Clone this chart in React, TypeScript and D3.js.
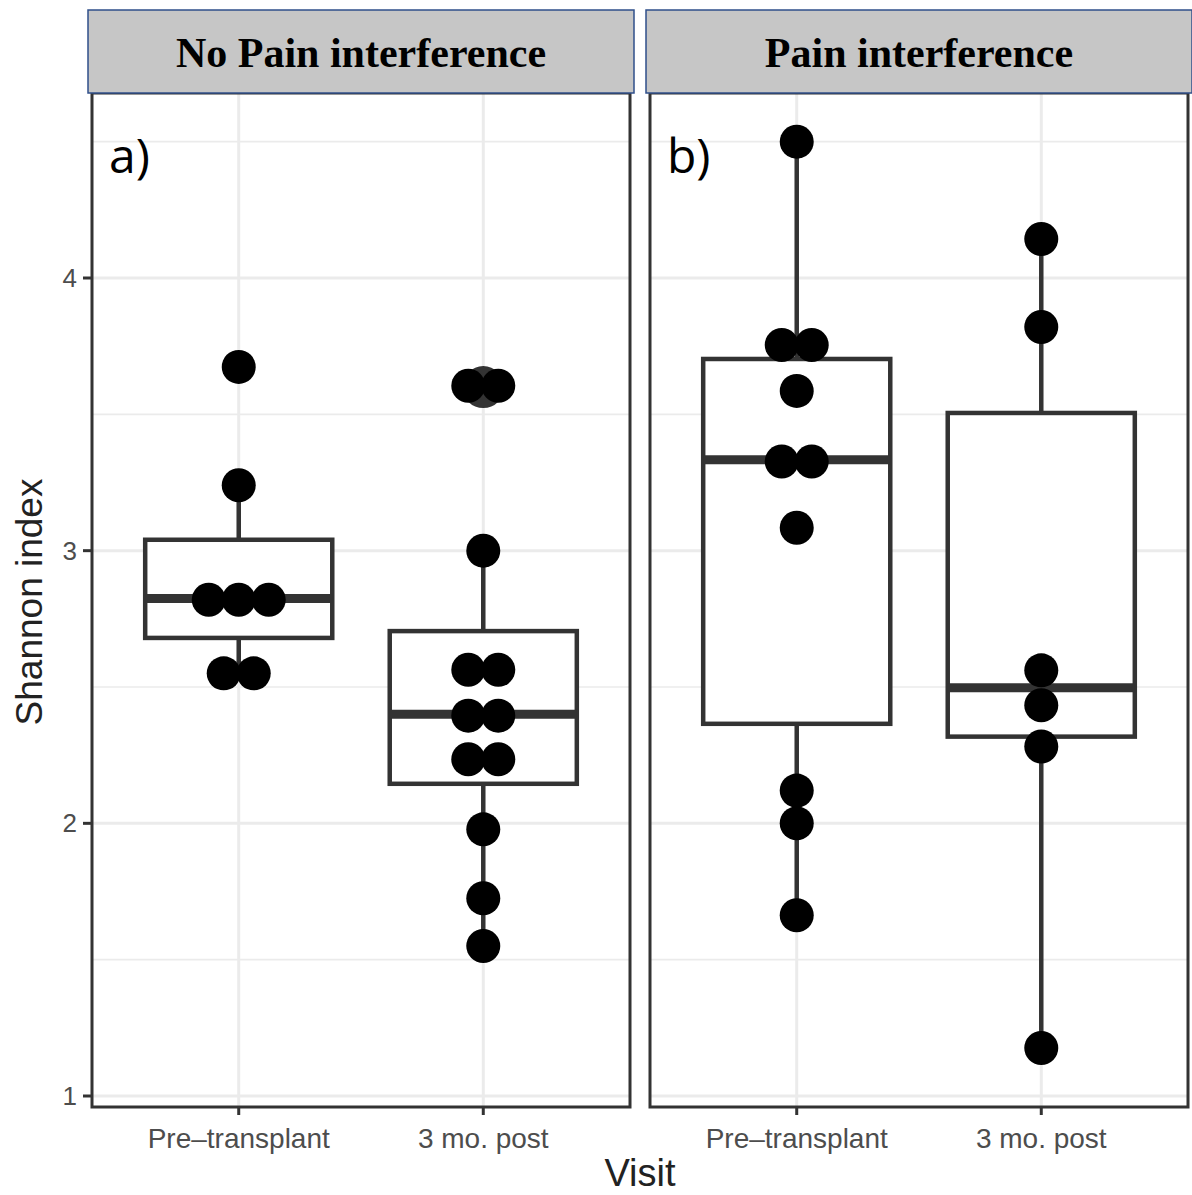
import React from "react";
import * as d3 from "d3";

const panels = ["No Pain interference", "Pain interference"];
const panelTags = ["a)", "b)"];
const visits = ["Pre\u2013transplant", "3 mo. post"];
const yTicks = [1, 2, 3, 4];
const yMinor = [1.5, 2.5, 3.5, 4.5];

// box stats per panel / visit: [lowerWhisker, q1, median, q3, upperWhisker]
const boxNoPain = [
  [2.55, 2.68, 2.825, 3.04, 3.24],
  [1.55, 2.145, 2.4, 2.705, 3.0],
];
const boxPain = [
  [1.665, 2.365, 3.333, 3.703, 4.5],
  [1.175, 2.318, 2.497, 3.505, 4.143],
];
// outliers drawn by the boxplot layer
const outNoPain = [[], [3.6]];
const outPain = [[], []];
// dotplot stacks: [value, count]
const dotsNoPain = [
  [[3.674, 1], [3.24, 1], [2.82, 3], [2.55, 2]],
  [[3.605, 2], [3.0, 1], [2.563, 2], [2.395, 2], [2.235, 2], [1.978, 1], [1.725, 1], [1.55, 1]],
];
const dotsPain = [
  [[4.5, 1], [3.754, 2], [3.586, 1], [3.327, 2], [3.084, 1], [2.12, 1], [2.0, 1], [1.663, 1]],
  [[4.143, 1], [3.82, 1], [2.561, 1], [2.433, 1], [2.282, 1], [1.176, 1]],
];

const boxes = [boxNoPain, boxPain];
const outs = [outNoPain, outPain];
const dots = [dotsNoPain, dotsPain];

export default function App() {
  const W = 1192, H = 1195;
  const top = 93, bottom = 1107;
  const panelX = [[92, 630], [650, 1188]];
  const y = d3.scaleLinear().domain([1, 4]).range([1096, 278]);
  const dotR = 17, dotStep = 30;
  const sans = "'Liberation Sans', Arial, Helvetica, sans-serif";

  return (
    <svg width={W} height={H} style={{ position: "absolute", left: 0, top: 0, background: "#fff" }}>
      <rect x={0} y={0} width={W} height={H} fill="#fff" />
      {panels.map((p, pi) => {
        const [x0, x1] = panelX[pi];
        const x = d3.scalePoint().domain(visits).range([x0, x1]).padding(0.6);
        const step = x.step();
        const bw = step * 0.765;
        return (
          <g key={p}>
            {/* grid */}
            {yMinor.map((v) => (
              <line key={"mn" + v} x1={x0} x2={x1} y1={y(v)} y2={y(v)} stroke="#ebebeb" strokeWidth={1.6} />
            ))}
            {yTicks.map((v) => (
              <line key={"mj" + v} x1={x0} x2={x1} y1={y(v)} y2={y(v)} stroke="#ebebeb" strokeWidth={3} />
            ))}
            {visits.map((v) => (
              <line key={"vx" + v} x1={x(v)} x2={x(v)} y1={top} y2={bottom} stroke="#ebebeb" strokeWidth={3} />
            ))}
            {/* boxes */}
            {visits.map((v, vi) => {
              const [lo, q1, med, q3, hi] = boxes[pi][vi];
              const cx = x(v)!;
              return (
                <g key={"b" + v}>
                  <line x1={cx} x2={cx} y1={y(hi)} y2={y(q3)} stroke="#333" strokeWidth={4.5} />
                  <line x1={cx} x2={cx} y1={y(q1)} y2={y(lo)} stroke="#333" strokeWidth={4.5} />
                  <rect x={cx - bw / 2} y={y(q3)} width={bw} height={y(q1) - y(q3)} fill="#fff" stroke="#333" strokeWidth={4.5} />
                  <line x1={cx - bw / 2} x2={cx + bw / 2} y1={y(med)} y2={y(med)} stroke="#333" strokeWidth={9} />
                  {outs[pi][vi].map((o, oi) => (
                    <circle key={oi} cx={cx} cy={y(o)} r={21} fill="#333" />
                  ))}
                </g>
              );
            })}
            {/* dots */}
            {visits.map((v, vi) =>
              dots[pi][vi].map(([val, n], di) =>
                d3.range(n).map((k) => (
                  <circle
                    key={v + di + "-" + k}
                    cx={x(v)! + (k - (n - 1) / 2) * dotStep}
                    cy={y(val)}
                    r={dotR}
                    fill="#000"
                  />
                ))
              )
            )}
            {/* border */}
            <rect x={x0} y={top} width={x1 - x0} height={bottom - top} fill="none" stroke="#333" strokeWidth={3} />
            {/* x ticks */}
            {visits.map((v) => (
              <g key={"xt" + v}>
                <line x1={x(v)} x2={x(v)} y1={bottom} y2={bottom + 8} stroke="#333" strokeWidth={3} />
                <text x={x(v)} y={1148} textAnchor="middle" fontFamily={sans} fontSize={28} fill="#4d4d4d">
                  {v}
                </text>
              </g>
            ))}
            {/* strip */}
            <rect x={x0 - 4} y={10} width={x1 - x0 + 8} height={top - 10} fill="#c6c6c6" stroke="#2f4f8a" strokeWidth={1.5} />
            <text
              x={(x0 + x1) / 2}
              y={67}
              textAnchor="middle"
              fontFamily="'Liberation Serif', 'Times New Roman', serif"
              fontWeight="bold"
              fontSize={42}
              fill="#000"
            >
              {p}
            </text>
            {/* tag */}
            <text x={x0 + 17} y={173} fontFamily="'Open Sans', sans-serif" fontSize={48} fill="#000">
              {panelTags[pi]}
            </text>
          </g>
        );
      })}
      {/* y axis */}
      {yTicks.map((v) => (
        <g key={"yt" + v}>
          <line x1={83} x2={92} y1={y(v)} y2={y(v)} stroke="#333" strokeWidth={3} />
          <text x={77} y={y(v) + 9} textAnchor="end" fontFamily={sans} fontSize={26} fill="#4d4d4d">
            {v}
          </text>
        </g>
      ))}
      <text
        transform={`translate(42,${(top + bottom) / 2 + 2}) rotate(-90)`}
        textAnchor="middle"
        fontFamily={sans}
        fontSize={37}
        fill="#222"
      >
        Shannon index
      </text>
      <text x={640} y={1186} textAnchor="middle" fontFamily={sans} fontSize={38} fill="#222">
        Visit
      </text>
    </svg>
  );
}
